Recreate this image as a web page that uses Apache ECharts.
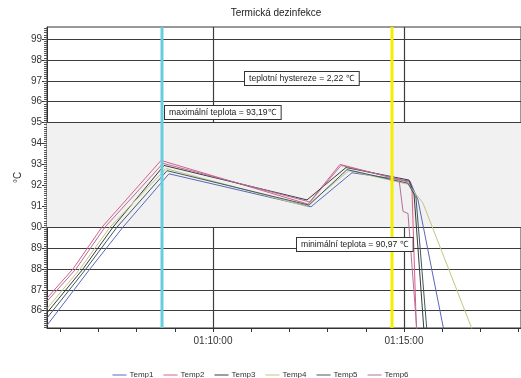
<!DOCTYPE html>
<html>
<head>
<meta charset="utf-8">
<script src="https://cdn.jsdelivr.net/npm/echarts@6/dist/echarts.min.js"></script>
<style>html,body{margin:0;padding:0;background:#fff}#c{width:521px;height:378px}</style>
</head>
<body>
<div id="c"></div>
<script>
// ---- data (time in minutes after 01:00:00, temperature in °C) ----
const seriesNames = ['Temp1', 'Temp2', 'Temp3', 'Temp4', 'Temp5', 'Temp6'];
const seriesColors = ['#5a66b8', '#dc5c86', '#3a3a3a', '#c4c484', '#3c5a5a', '#b0709c'];

const temp1Time = [5.654, 6.780, 7.644, 8.848, 12.565, 13.639, 15.157, 15.366, 16.050];
const temp1Vals = [85.30, 88.00, 90.00, 92.55, 90.97, 92.60, 92.20, 91.30, 85.00];
const temp2Time = [5.654, 6.335, 7.094, 8.639, 12.487, 13.325, 15.131, 15.209, 15.327];
const temp2Vals = [86.60, 88.00, 90.00, 93.19, 91.10, 93.00, 92.15, 91.80, 85.00];
const temp3Time = [5.654, 6.597, 7.382, 8.717, 12.461, 13.482, 15.131, 15.262, 15.524];
const temp3Vals = [85.90, 88.00, 90.00, 92.95, 91.30, 92.85, 92.25, 91.60, 85.00];
const temp4Time = [5.654, 6.518, 7.304, 8.770, 12.435, 13.560, 15.105, 15.497, 16.806];
const temp4Vals = [86.10, 88.00, 90.00, 92.80, 91.00, 92.70, 92.05, 91.15, 85.00];
const temp5Time = [5.654, 6.675, 7.487, 8.796, 12.513, 13.508, 15.105, 15.314, 15.602];
const temp5Vals = [85.65, 88.00, 90.00, 92.70, 91.05, 92.75, 92.10, 91.40, 85.00];
const temp6Time = [5.654, 6.414, 7.173, 8.691, 12.539, 13.351, 14.869, 14.974, 15.105, 15.340];
const temp6Vals = [86.45, 88.00, 90.00, 93.05, 91.20, 92.95, 92.30, 90.75, 90.65, 85.00];

const cursorTimes = [8.665, 14.686];          // cyan, yellow cursors
const cursorColors = ['#68cddc', '#f4ee00'];
const bandLimits = [90, 95];                   // shaded hysteresis band
const yTickLabels = [86, 87, 88, 89, 90, 91, 92, 93, 94, 95, 96, 97, 98, 99];
const xTickMinutes = [6, 7, 8, 9, 10, 11, 12, 13, 14, 15, 16, 17, 18];
const xLabelMinutes = [10, 15];
const annotations = [
  'teplotní hystereze = 2,22 ℃',
  'maximální teplota = 93,19℃',
  'minimální teplota = 90,97 ℃'
];
const titleText = 'Termická dezinfekce';
const yName = '°C';

// ---- build ----
const xMin = 5.654, xMax = 18.063, yMin = 85.172, yMax = 99.574;
const FONT = '"Liberation Sans", Arial, sans-serif';
const times = [temp1Time, temp2Time, temp3Time, temp4Time, temp5Time, temp6Time];
const vals = [temp1Vals, temp2Vals, temp3Vals, temp4Vals, temp5Vals, temp6Vals];

const minorY = [];
for (let i = Math.ceil(yMin * 10); i <= Math.floor(yMax * 10); i++) minorY.push(i / 10);

function fmtTime(m) {
  const tot = Math.round(m * 60);
  const h = Math.floor(tot / 3600) + 1;
  const mm = Math.floor((tot % 3600) / 60);
  const ss = tot % 60;
  const p = n => String(n).padStart(2, '0');
  return p(h) + ':' + p(mm) + ':' + p(ss);
}

const gridColor = '#3c3c3c';
const gridLines = [];
yTickLabels.filter(v => v <= bandLimits[0] || v >= bandLimits[1]).forEach(v => gridLines.push({ yAxis: v }));
xLabelMinutes.forEach(m => {
  gridLines.push([{ coord: [m, yMax] }, { coord: [m, bandLimits[1]] }]);
  gridLines.push([{ coord: [m, bandLimits[0]] }, { coord: [m, yMin] }]);
});

const series = [{
  type: 'line', data: [], silent: true, z: 1,
  markArea: {
    silent: true,
    itemStyle: { color: '#f1f1f1' },
    data: [[{ yAxis: bandLimits[0] }, { yAxis: bandLimits[1] }]]
  },
  markLine: {
    silent: true, symbol: ['none', 'none'], label: { show: false },
    lineStyle: { color: gridColor, width: 1.2, type: 'solid' },
    animation: false,
    data: gridLines
  }
}];
seriesNames.forEach((n, i) => {
  series.push({
    name: n, type: 'line', z: 6, symbol: 'none', smooth: false,
    color: seriesColors[i],
    lineStyle: { width: 1, color: seriesColors[i] },
    data: times[i].map((t, k) => [t, vals[i][k]])
  });
});
cursorTimes.forEach((t, i) => {
  series.push({
    type: 'line', z: 7, symbol: 'none', silent: true,
    lineStyle: { width: 3, color: cursorColors[i] },
    data: [[t, yMin], [t, yMax]]
  });
});

const boxStyle = { font: '8.6px ' + FONT, fill: '#222', backgroundColor: '#fff', borderColor: '#333', borderWidth: 1, padding: [2, 4], verticalAlign: 'top', align: 'left' };
const boxPos = [[245, 72], [165, 106], [297, 238]];

const chart = echarts.init(document.getElementById('c'), null, { renderer: 'canvas' });
chart.setOption({
  animation: false,
  backgroundColor: '#fff',
  title: {
    text: titleText, left: 271, top: 3, textAlign: 'center',
    textStyle: { fontFamily: FONT, fontSize: 10, fontWeight: 'normal', color: '#222' }
  },
  legend: {
    data: seriesNames, top: 366, left: 'center',
    icon: 'rect', itemWidth: 14, itemHeight: 1, itemGap: 10,
    textStyle: { fontFamily: FONT, fontSize: 8, color: '#333', padding: [0, 0, 0, -2] }
  },
  grid: { left: 47, right: 0, top: 27, bottom: 50, show: true, borderColor: '#333', borderWidth: 1, backgroundColor: 'transparent' },
  xAxis: {
    type: 'value', min: xMin, max: xMax,
    axisLine: { show: true, lineStyle: { color: '#333', width: 1 } },
    axisTick: { show: true, customValues: xTickMinutes, length: 4, lineStyle: { color: '#333' } },
    axisLabel: { customValues: xLabelMinutes, formatter: v => fmtTime(v), fontFamily: FONT, fontSize: 10, color: '#333', margin: 8 },
    splitLine: { show: false }
  },
  yAxis: [{
    type: 'value', min: yMin, max: yMax, position: 'left',
    name: yName, nameLocation: 'middle', nameGap: 24, nameRotate: 90, nameMoveOverlap: false,
    nameTextStyle: { fontFamily: FONT, fontSize: 10, color: '#333' },
    axisLine: { show: true, lineStyle: { color: '#333', width: 1 } },
    axisTick: { show: true, customValues: yTickLabels, length: 5, lineStyle: { color: '#333' } },
    axisLabel: { customValues: yTickLabels, fontFamily: FONT, fontSize: 10, color: '#333', margin: 5 },
    splitLine: { show: false }
  }, {
    type: 'value', min: yMin, max: yMax, position: 'left', offset: 0,
    axisLine: { show: false },
    axisTick: { show: true, customValues: minorY, length: 3, lineStyle: { color: '#555' } },
    axisLabel: { show: false },
    splitLine: { show: false }
  }],
  graphic: annotations.map((t, i) => ({
    type: 'text', x: boxPos[i][0], y: boxPos[i][1], z: 100,
    style: Object.assign({ text: t }, boxStyle)
  })),
  series: series
});
</script>
</body>
</html>
